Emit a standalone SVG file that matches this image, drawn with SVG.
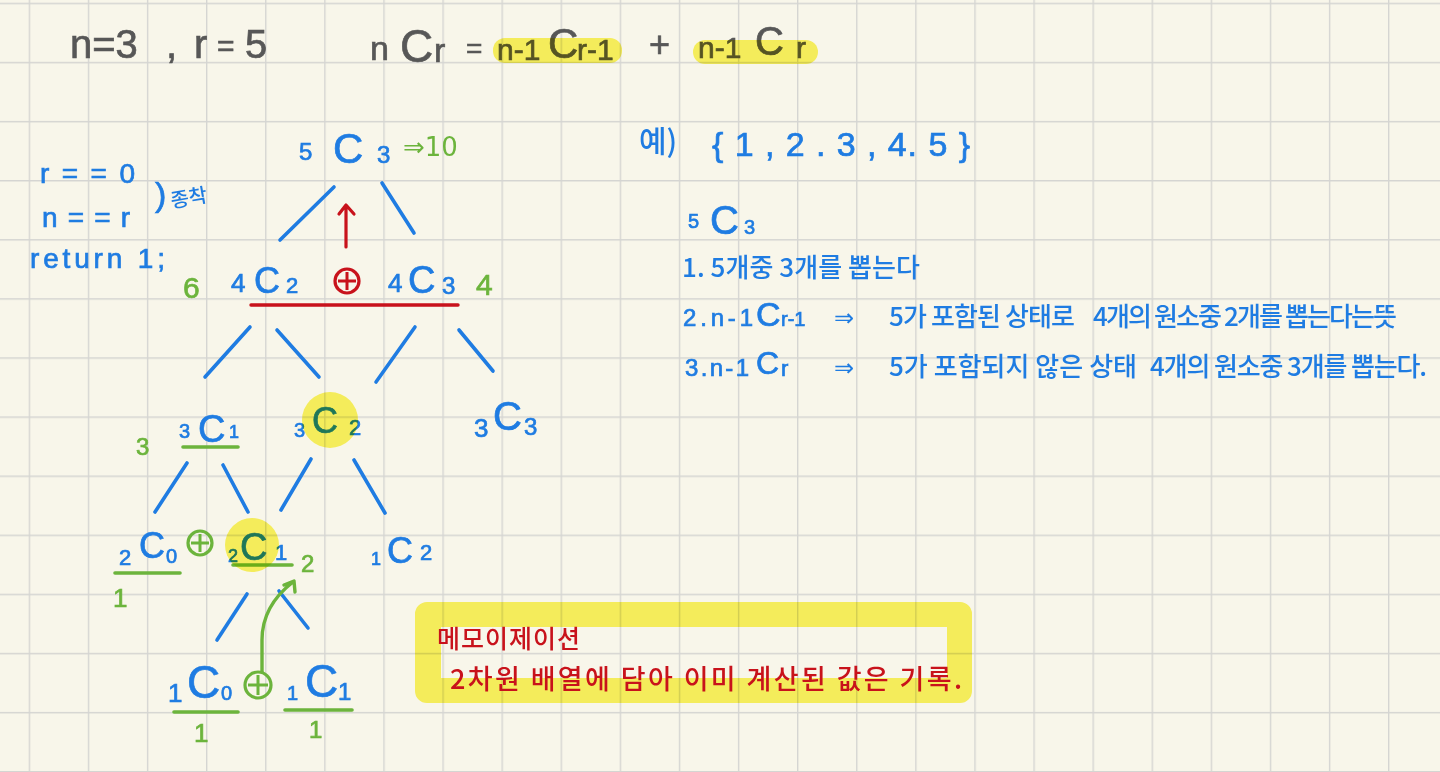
<svg xmlns="http://www.w3.org/2000/svg" width="1440" height="772" viewBox="0 0 1440 772">
<defs>
<pattern id="gridp" patternUnits="userSpaceOnUse" x="28.7" y="2.7" width="59.1" height="59.1">
<path d="M0 0 H59.1 M0 0 V59.1" stroke="#d5d5d2" stroke-width="2.8" fill="none"/>
</pattern>
<style>
.t{font-family:"Liberation Sans","Noto Sans CJK KR",sans-serif;stroke-width:0.7}
.k{font-family:"Noto Sans CJK KR","Liberation Sans",sans-serif;font-weight:500}
.ar{font-family:"DejaVu Sans","Liberation Sans",sans-serif}
.b{fill:#1f7ce2;stroke:#1f7ce2}
.g{fill:#6cb43c;stroke:#6cb43c}
.r{fill:#c8121b}
.gr{fill:#575757;stroke:#575757}
.k.b{stroke:none}
.ar{stroke:none}
.ln{stroke:#1f7ce2;stroke-width:3.6;stroke-linecap:round;fill:none}
.ul{stroke:#6cb43c;stroke-width:3.6;stroke-linecap:round;fill:none}
.hl{fill:#fbf563;mix-blend-mode:multiply}
.cp{fill:none;stroke-width:3.2}
</style>
</defs>
<rect width="1440" height="772" fill="#f8f6ea"/>
<rect width="1440" height="772" fill="url(#gridp)"/>

<g id="header">
<text class="t gr" x="70" y="58" font-size="40">n=3</text>
<text class="t gr" font-size="40"><tspan x="166" y="58">,</tspan><tspan x="194" y="58">r</tspan><tspan x="217" y="56" font-size="30">=</tspan><tspan x="245" y="58">5</tspan></text>
<text class="t gr" font-size="34"><tspan x="370" y="60">n</tspan><tspan x="400" y="62" font-size="46">C</tspan><tspan x="434" y="62">r</tspan><tspan x="466" y="58" font-size="28">=</tspan></text>
<text class="t gr" font-size="30"><tspan x="497" y="60">n-1</tspan><tspan x="548" y="58" font-size="42">C</tspan><tspan x="577" y="60">r-1</tspan></text>
<text class="t gr" x="649" y="57" font-size="36">+</text>
<text class="t gr" font-size="30"><tspan x="698" y="58">n-1</tspan><tspan x="755" y="55" font-size="40">C</tspan><tspan x="796" y="58">r</tspan></text>
<rect class="hl" x="493" y="38" width="129" height="25" rx="12"/>
<rect class="hl" x="693" y="40" width="125" height="24" rx="12"/>
</g>

<g id="base-case">
<text class="t b" x="40" y="183" font-size="28" textLength="95" lengthAdjust="spacing">r==0</text>
<text class="t b" x="42" y="227" font-size="28" textLength="88" lengthAdjust="spacing">n==r</text>
<text class="t b" x="30" y="268" font-size="28" textLength="135" lengthAdjust="spacing">return 1;</text>
<text class="t b" x="155" y="206" font-size="34">)</text>
<text class="k b" x="172" y="208" font-size="20" transform="rotate(-10 172 208)">종착</text>
</g>

<g id="connectors">
<line class="ln" x1="334" y1="187" x2="280" y2="240"/>
<line class="ln" x1="382" y1="183" x2="414" y2="233"/>
<line class="ln" x1="250" y1="327" x2="205" y2="377"/>
<line class="ln" x1="277" y1="330" x2="319" y2="377"/>
<line class="ln" x1="415" y1="327" x2="376" y2="382"/>
<line class="ln" x1="459" y1="330" x2="493" y2="371"/>
<line class="ln" x1="187" y1="463" x2="155" y2="512"/>
<line class="ln" x1="223" y1="465" x2="248" y2="512"/>
<line class="ln" x1="311" y1="459" x2="281" y2="510"/>
<line class="ln" x1="354" y1="460" x2="385" y2="513"/>
<line class="ln" x1="247" y1="594" x2="217" y2="640"/>
<line class="ln" x1="279" y1="591" x2="308" y2="628"/>
<path d="M346 247 V206 M339 214 L346 205 L354 214" stroke="#c8121b" stroke-width="3.2" fill="none" stroke-linecap="round" stroke-linejoin="round"/>
<path d="M262 672 V640 Q262 606 293 582 M284 585 L294 581 L295 592" stroke="#6cb43c" stroke-width="3.4" fill="none" stroke-linecap="round" stroke-linejoin="round"/>
</g>

<g id="n-5C3">
<text class="t b" font-size="24"><tspan x="299" y="160">5</tspan><tspan x="333" y="163" font-size="42">C</tspan><tspan x="377" y="163">3</tspan></text>
<text class="ar g" x="403" y="156" font-size="26">⇒10</text>
</g>

<g id="n-4C2">
<text class="t g" x="183" y="298" font-size="30">6</text>
<text class="t b" font-size="26"><tspan x="231" y="292">4</tspan><tspan x="254" y="293" font-size="36">C</tspan><tspan x="286" y="293" font-size="22">2</tspan></text>
</g>
<g id="plus-1">
<circle class="cp" cx="347" cy="281" r="12" stroke="#c8121b"/>
<path d="M347 272 V290 M338 281 H356" stroke="#c8121b" stroke-width="3" fill="none"/>
</g>
<g id="n-4C3">
<text class="t b" font-size="26"><tspan x="388" y="292">4</tspan><tspan x="408" y="293" font-size="38">C</tspan><tspan x="442" y="294" font-size="24">3</tspan></text>
<text class="t g" x="476" y="295" font-size="30">4</text>
</g>
<line id="sum-line" x1="251" y1="305" x2="458" y2="305" stroke="#c8121b" stroke-width="3.4" stroke-linecap="round"/>

<g id="n-3C1">
<text class="t g" x="136" y="455" font-size="24">3</text>
<text class="t b" font-size="20"><tspan x="179" y="438">3</tspan><tspan x="198" y="442" font-size="38">C</tspan><tspan x="229" y="438" font-size="18">1</tspan></text>
<line class="ul" x1="183" y1="447" x2="238" y2="447"/>
</g>
<g id="n-3C2">
<text class="t b" font-size="20"><tspan x="294" y="437">3</tspan><tspan x="312" y="433" font-size="36">C</tspan><tspan x="349" y="435" font-size="22">2</tspan></text>
<circle class="hl" cx="330" cy="420" r="28"/>
</g>
<g id="n-3C3">
<text class="t b" font-size="26"><tspan x="474" y="437">3</tspan><tspan x="493" y="430" font-size="40">C</tspan><tspan x="524" y="435" font-size="24">3</tspan></text>
</g>

<g id="n-2C0">
<text class="t b" font-size="22"><tspan x="119" y="565">2</tspan><tspan x="139" y="558" font-size="36">C</tspan><tspan x="166" y="563" font-size="20">0</tspan></text>
<line class="ul" x1="115" y1="573" x2="180" y2="573"/>
<text class="t g" x="113" y="607" font-size="26">1</text>
</g>
<g id="plus-2">
<circle class="cp" cx="200" cy="543" r="12" stroke="#6cb43c"/>
<path d="M200 534 V552 M191 543 H209" stroke="#6cb43c" stroke-width="3" fill="none"/>
</g>
<g id="n-2C1">
<text class="t b" font-size="18"><tspan x="228" y="562">2</tspan><tspan x="240" y="560" font-size="38">C</tspan><tspan x="275" y="560" font-size="22">1</tspan></text>
<line class="ul" x1="233" y1="565" x2="292" y2="565"/>
<text class="t g" x="301" y="572" font-size="24">2</text>
<circle class="hl" cx="252" cy="545" r="27"/>
</g>
<g id="n-2C2">
<text class="t b" font-size="18"><tspan x="371" y="565">1</tspan><tspan x="387" y="563" font-size="36">C</tspan><tspan x="420" y="560" font-size="22">2</tspan></text>
</g>

<g id="n-1C0">
<text class="t b" font-size="26"><tspan x="168" y="702">1</tspan><tspan x="187" y="698" font-size="46">C</tspan><tspan x="221" y="700" font-size="20">0</tspan></text>
<line class="ul" x1="174" y1="712" x2="238" y2="712"/>
<text class="t g" x="194" y="742" font-size="26">1</text>
</g>
<g id="plus-3">
<circle class="cp" cx="258" cy="685" r="13" stroke="#6cb43c"/>
<path d="M258 675 V695 M248 685 H268" stroke="#6cb43c" stroke-width="3" fill="none"/>
</g>
<g id="n-1C1">
<text class="t b" font-size="20"><tspan x="287" y="700">1</tspan><tspan x="305" y="697" font-size="46">C</tspan><tspan x="338" y="700" font-size="24">1</tspan></text>
<line class="ul" x1="285" y1="710" x2="352" y2="710"/>
<text class="t g" x="309" y="738" font-size="24">1</text>
</g>

<g id="example">
<text class="k b" x="639" y="152" font-size="30">예)</text>
<text class="t b" x="712" y="156" font-size="34" textLength="258" lengthAdjust="spacing">{ 1 , 2 . 3 , 4. 5 }</text>
<text class="t b" font-size="20"><tspan x="688" y="228">5</tspan><tspan x="710" y="234" font-size="40">C</tspan><tspan x="744" y="234">3</tspan></text>
<text class="k b" x="682" y="277" font-size="26" textLength="238" lengthAdjust="spacing">1. 5개중 3개를 뽑는다</text>
<text class="t b" font-size="24"><tspan x="683" y="326" textLength="70" lengthAdjust="spacing">2.n-1</tspan><tspan x="756" y="326" font-size="34">C</tspan><tspan x="781" y="326" font-size="20">r-1</tspan></text>
<text class="ar b" x="834" y="326" font-size="24">⇒</text>
<text class="k b" x="889" y="326" font-size="26" textLength="186" lengthAdjust="spacing">5가 포함된 상태로</text>
<text class="k b" x="1093" y="326" font-size="26" textLength="304" lengthAdjust="spacing">4개의 원소중 2개를 뽑는다는뜻</text>
<text class="t b" font-size="24"><tspan x="685" y="376" textLength="64" lengthAdjust="spacing">3.n-1</tspan><tspan x="756" y="374" font-size="32">C</tspan><tspan x="781" y="376" font-size="22">r</tspan></text>
<text class="ar b" x="834" y="376" font-size="24">⇒</text>
<text class="k b" x="889" y="376" font-size="26" textLength="248" lengthAdjust="spacing">5가 포함되지 않은 상태</text>
<text class="k b" x="1150" y="376" font-size="26" textLength="277" lengthAdjust="spacing">4개의 원소중 3개를 뽑는다.</text>
</g>

<g id="memo">
<path d="M427 602 H960 A12 12 0 0 1 972 614 V691 A12 12 0 0 1 960 703 H427 A12 12 0 0 1 415 691 V614 A12 12 0 0 1 427 602 Z M441 627 V678 H947 V627 Z" fill="#fbf563" fill-rule="evenodd" style="mix-blend-mode:multiply"/>
<text class="k r" x="437" y="648" font-size="25" textLength="143" lengthAdjust="spacing">메모이제이션</text>
<text class="k r" x="450" y="689" font-size="27" textLength="512" lengthAdjust="spacing">2차원 배열에 담아 이미 계산된 값은 기록.</text>
</g>
</svg>
